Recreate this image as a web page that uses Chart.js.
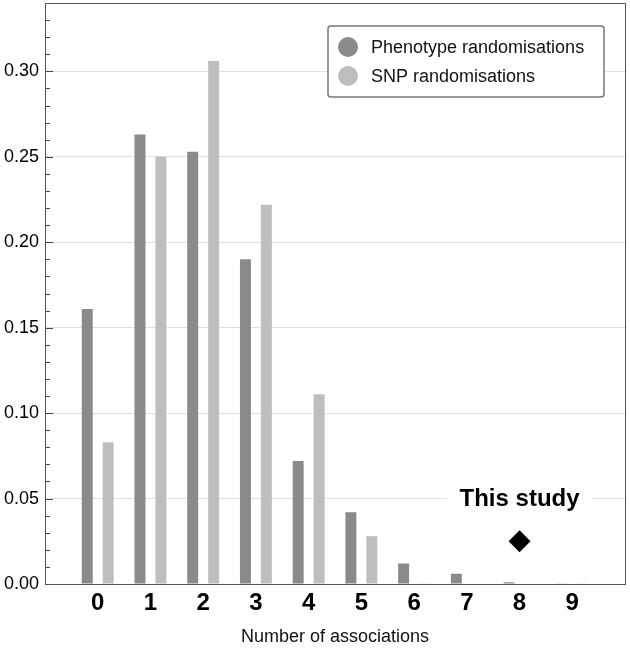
<!DOCTYPE html>
<html>
<head>
<meta charset="utf-8">
<script src="https://cdn.jsdelivr.net/npm/chart.js@4"></script>
<style>
  html, body { margin: 0; padding: 0; background: #fff; }
</style>
</head>
<body>
<canvas id="chart" width="630" height="648"></canvas>
<script>
// Data
const categories = ['0', '1', '2', '3', '4', '5', '6', '7', '8', '9'];
const phenotypeValues = [0.161, 0.263, 0.253, 0.190, 0.072, 0.042, 0.012, 0.006, 0.001, 0.0002];
const snpValues = [0.083, 0.250, 0.306, 0.222, 0.111, 0.028, 0.0004, 0.0003, 0.0003, 0.0002];
const yTickLabels = ['0.00', '0.05', '0.10', '0.15', '0.20', '0.25', '0.30'];
const seriesNames = ['Phenotype randomisations', 'SNP randomisations'];
const studyCategory = '8';
const studyMarkerValue = 0.025;
const studyLabelValue = 0.05;
const studyLabel = 'This study';
const xTitle = 'Number of associations';

const FONT = "'Liberation Sans', Arial, Helvetica, sans-serif";
const DARK = '#8a8a8a';
const LIGHT = '#bebebe';

// one empty slot on each side so the axis runs from -1 to 10
const labels = [''].concat(categories, ['']);
const pad = arr => [null].concat(arr, [null]);
const studyData = pad(categories.map(c => (c === studyCategory ? studyMarkerValue : null)));

const framePlugin = {
  id: 'frame',
  beforeDatasetsDraw(chart) {
    const { ctx, scales } = chart;
    // label "This study" sitting on the 0.05 grid line
    const x = scales.x.getPixelForValue(labels.indexOf(studyCategory));
    const y = scales.y.getPixelForValue(studyLabelValue);
    ctx.save();
    ctx.font = 'bold 24px ' + FONT;
    const w = ctx.measureText(studyLabel).width + 26;
    ctx.fillStyle = '#fff';
    ctx.fillRect(x - w / 2, y - 13, w, 26);
    ctx.fillStyle = '#000';
    ctx.textAlign = 'center';
    ctx.textBaseline = 'middle';
    ctx.fillText(studyLabel, x, y + 1);
    ctx.restore();
  },
  afterDatasetsDraw(chart) {
    const { ctx, chartArea, scales } = chart;
    ctx.save();
    // inward ticks on the left axis
    ctx.strokeStyle = '#444';
    ctx.lineWidth = 1;
    scales.y.ticks.forEach(t => {
      const py = Math.round(scales.y.getPixelForValue(t.value)) + 0.5;
      const major = Math.round(t.value * 100) % 5 === 0;
      ctx.beginPath();
      ctx.moveTo(chartArea.left, py);
      ctx.lineTo(chartArea.left + (major ? 8 : 5), py);
      ctx.stroke();
    });
    // box round the plot
    ctx.strokeStyle = '#555';
    ctx.strokeRect(Math.round(chartArea.left) + 0.5, Math.round(chartArea.top) + 0.5,
      Math.round(chartArea.right - chartArea.left), Math.round(chartArea.bottom - chartArea.top));

    // legend inside the plot
    const lx = 328, ly = 26, lw = 276, lh = 71;
    ctx.fillStyle = '#fff';
    ctx.strokeStyle = '#777';
    ctx.lineWidth = 1.5;
    ctx.beginPath();
    ctx.roundRect(lx, ly, lw, lh, 3);
    ctx.fill();
    ctx.stroke();
    ctx.font = '18px ' + FONT;
    ctx.textBaseline = 'middle';
    ctx.textAlign = 'left';
    chart.data.datasets.filter(d => d.type === 'bar').forEach((d, i) => {
      const cy = ly + 21 + i * 29;
      ctx.fillStyle = d.backgroundColor;
      ctx.beginPath();
      ctx.arc(lx + 20, cy, 10, 0, Math.PI * 2);
      ctx.fill();
      ctx.fillStyle = '#111';
      ctx.fillText(d.label, lx + 43, cy + 1);
    });
    ctx.restore();
  }
};

new Chart(document.getElementById('chart').getContext('2d'), {
  data: {
    labels: labels,
    datasets: [
      {
        type: 'line',
        label: studyLabel,
        data: studyData,
        showLine: false,
        pointStyle: 'rectRot',
        pointRadius: 11,
        backgroundColor: '#000',
        borderColor: '#000',
        borderWidth: 0,
        order: 0
      },
      {
        type: 'bar',
        label: seriesNames[0],
        data: pad(phenotypeValues),
        backgroundColor: DARK,
        categoryPercentage: 0.794,
        barPercentage: 0.524,
        order: 1
      },
      {
        type: 'bar',
        label: seriesNames[1],
        data: pad(snpValues),
        backgroundColor: LIGHT,
        categoryPercentage: 0.794,
        barPercentage: 0.524,
        order: 1
      }
    ]
  },
  options: {
    responsive: false,
    animation: false,
    devicePixelRatio: 1,
    layout: { autoPadding: false, padding: { top: 3, right: 5, left: 0, bottom: 0 } },
    plugins: {
      legend: { display: false },
      tooltip: { enabled: false }
    },
    scales: {
      x: {
        type: 'category',
        offset: false,
        grid: { display: false, drawTicks: false },
        border: { display: false },
        ticks: {
          color: '#000',
          font: { family: FONT, size: 24, weight: 'bold' },
          padding: 5,
          maxRotation: 0,
          autoSkip: false
        },
        title: {
          display: true,
          text: xTitle,
          color: '#111',
          font: { family: FONT, size: 18 },
          padding: { top: 0, bottom: 0 }
        },
        afterFit(scale) {
          scale.height = 64;
          scale.paddingLeft = 0;
          scale.paddingRight = 0;
        }
      },
      y: {
        min: 0,
        max: 0.34,
        afterBuildTicks(scale) {
          const t = [];
          for (let i = 0; i <= 34; i++) t.push({ value: i / 100 });
          scale.ticks = t;
        },
        grid: {
          drawTicks: false,
          color: ctx => (ctx.tick && Math.round(ctx.tick.value * 100) % 5 === 0 && ctx.tick.value > 0 ? '#e0e0e0' : 'rgba(0,0,0,0)')
        },
        border: { display: false },
        ticks: {
          color: '#000',
          font: { family: FONT, size: 18 },
          padding: 6,
          autoSkip: false,
          callback: v => {
            const s = v.toFixed(2);
            return yTickLabels.includes(s) ? s : '';
          }
        },
        afterFit(scale) {
          scale.width = 45;
          scale.paddingTop = 0;
          scale.paddingBottom = 0;
        }
      }
    }
  },
  plugins: [framePlugin]
});
</script>
</body>
</html>
